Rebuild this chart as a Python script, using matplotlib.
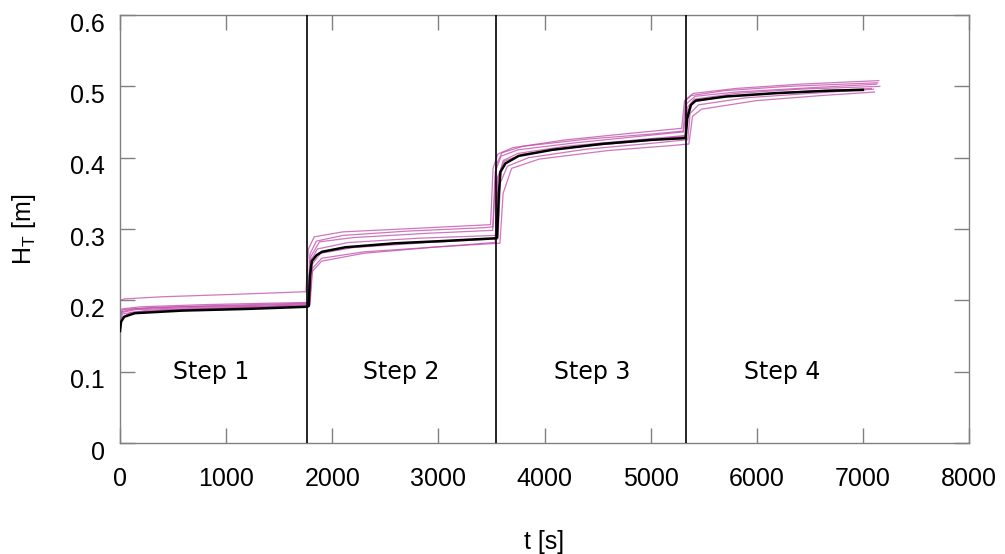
import matplotlib
matplotlib.use("Agg")
import matplotlib.pyplot as plt
import matplotlib.transforms as mtransforms

# ---------------- data ----------------
step_bounds = [1764, 3547, 5330]
step_labels = ["Step 1", "Step 2", "Step 3", "Step 4"]
step_label_t = [858, 2651, 4453, 6236]
step_label_h = 0.10

x_ticks = [0, 1000, 2000, 3000, 4000, 5000, 6000, 7000, 8000]
y_ticks = [0, 0.1, 0.2, 0.3, 0.4, 0.5, 0.6]
y_tick_labels = ["0", "0.1", "0.2", "0.3", "0.4", "0.5", "0.6"]

# mean curve
mean_t = [0, 10, 40, 140, 585, 1208, 1764, 1778, 1790, 1808, 1850, 1903, 2123, 2594, 3066,
          3538, 3553, 3570, 3585, 3632, 3757, 4072, 4544, 5016, 5311, 5330, 5345,
          5380, 5425, 5708, 6179, 6651, 7000]
mean_h = [0.157, 0.170, 0.177, 0.182, 0.1856, 0.188, 0.191, 0.192, 0.235, 0.255, 0.263,
          0.268, 0.2744, 0.280, 0.2833, 0.287, 0.288, 0.350, 0.380, 0.392, 0.4025, 0.411,
          0.4193, 0.425, 0.4273, 0.428, 0.455, 0.474, 0.480, 0.4857, 0.4904, 0.4937, 0.495]

# individual runs
run_a_t = [0, 40, 400, 1000, 1740, 1752, 1775, 1830, 2100, 2800, 3480, 3492, 3515, 3560,
           3700, 4200, 4800, 5280, 5292, 5320, 5400, 5800, 6400, 7150]
run_a_h = [0.200, 0.202, 0.205, 0.208, 0.212, 0.212, 0.272, 0.289, 0.296, 0.301, 0.306,
           0.306, 0.385, 0.405, 0.414, 0.425, 0.434, 0.441, 0.441, 0.480, 0.490, 0.497,
           0.503, 0.508]

run_b_t = [0, 20, 200, 800, 1400, 1765, 1778, 1800, 1880, 2200, 2900, 3500, 3512, 3535,
           3590, 3750, 4300, 4900, 5300, 5312, 5340, 5420, 5800, 6500, 7130]
run_b_h = [0.185, 0.188, 0.191, 0.194, 0.196, 0.197, 0.197, 0.262, 0.282, 0.288, 0.294,
           0.298, 0.298, 0.380, 0.402, 0.411, 0.421, 0.430, 0.436, 0.436, 0.476, 0.486,
           0.492, 0.498, 0.503]

run_c_t = [0, 25, 250, 900, 1770, 1790, 1815, 1900, 2300, 3000, 3565, 3580, 3610, 3690,
           3950, 4600, 5200, 5345, 5360, 5395, 5480, 6000, 6600, 7110]
run_c_h = [0.172, 0.181, 0.186, 0.189, 0.193, 0.193, 0.245, 0.259, 0.268, 0.275, 0.280,
           0.280, 0.350, 0.385, 0.398, 0.410, 0.417, 0.419, 0.419, 0.458, 0.468, 0.480,
           0.487, 0.492]

run_d_t = [0, 15, 120, 600, 1300, 1760, 1772, 1795, 1860, 2150, 2800, 3530, 3542, 3560,
           3610, 3750, 4200, 4800, 5320, 5332, 5350, 5400, 5700, 6300, 7080]
run_d_h = [0.178, 0.184, 0.188, 0.191, 0.193, 0.195, 0.195, 0.255, 0.272, 0.281, 0.287,
           0.291, 0.291, 0.368, 0.396, 0.406, 0.416, 0.424, 0.431, 0.431, 0.466, 0.478,
           0.486, 0.492, 0.497]

run_e_t = [0, 30, 300, 1000, 1755, 1768, 1790, 1850, 2100, 2700, 3450, 3500, 3515, 3545,
           3600, 3800, 4400, 5000, 5290, 5305, 5330, 5380, 5700, 6300, 7140]
run_e_h = [0.182, 0.187, 0.190, 0.193, 0.196, 0.196, 0.265, 0.283, 0.291, 0.297, 0.302,
           0.303, 0.303, 0.390, 0.407, 0.416, 0.426, 0.433, 0.437, 0.437, 0.480, 0.487,
           0.494, 0.500, 0.505]

run_f_t = [0, 20, 150, 700, 1400, 1775, 1788, 1808, 1890, 2200, 2900, 3545, 3560, 3585,
           3650, 3850, 4400, 5000, 5335, 5350, 5372, 5450, 5900, 6500, 7100]
run_f_h = [0.176, 0.183, 0.187, 0.190, 0.192, 0.194, 0.194, 0.250, 0.266, 0.274, 0.281,
           0.286, 0.286, 0.365, 0.388, 0.400, 0.412, 0.420, 0.425, 0.425, 0.462, 0.474,
           0.484, 0.490, 0.496]

run_g_t = [0, 10, 100, 500, 1200, 1770, 1782, 1810, 1900, 2300, 3000, 3520, 3535, 3555,
           3620, 3800, 4300, 4900, 5310, 5325, 5345, 5410, 5800, 6400, 7160]
run_g_h = [0.160, 0.175, 0.183, 0.187, 0.190, 0.192, 0.192, 0.240, 0.255, 0.266, 0.275,
           0.281, 0.281, 0.372, 0.395, 0.405, 0.415, 0.423, 0.430, 0.430, 0.470, 0.482,
           0.490, 0.496, 0.500]

runs = [(run_a_t, run_a_h), (run_b_t, run_b_h), (run_c_t, run_c_h), (run_d_t, run_d_h),
        (run_e_t, run_e_h), (run_f_t, run_f_h), (run_g_t, run_g_h)]

# ---------------- plot ----------------
fig = plt.figure(figsize=(10.05, 5.54), dpi=100)
ax = fig.add_axes([120 / 1005, 111 / 554, 849 / 1005, 428 / 554])

for t, h in runs:
    ax.plot(t, h, color="#c048a8", lw=0.9, alpha=0.75, zorder=2)

ax.plot(mean_t, mean_h, color="black", lw=1.8, zorder=3)

for b in step_bounds:
    ax.axvline(b, color="black", lw=1.2, zorder=4)

for lab, tx in zip(step_labels, step_label_t):
    ax.text(tx, step_label_h, lab, ha="center", va="center", fontsize=17,
            family="DejaVu Sans", color="black")

ax.set_xlim(0, 8000)
ax.set_ylim(0, 0.6)
ax.set_xticks(x_ticks)
ax.set_yticks(y_ticks)
ax.set_yticklabels(y_tick_labels)

frame_col = "#808080"
for s in ax.spines.values():
    s.set_color(frame_col)
    s.set_linewidth(1.0)

ax.tick_params(axis="both", direction="in", length=11, width=1.0, color=frame_col,
               top=True, right=True, labelsize=18, labelcolor="black")
ax.tick_params(axis="x", pad=17)
ax.tick_params(axis="y", pad=11)
for lbl in ax.get_xticklabels() + ax.get_yticklabels():
    lbl.set_family("Liberation Sans")

# y tick labels sit slightly below their ticks in the reference
shift = mtransforms.ScaledTranslation(0, -7 / 100, fig.dpi_scale_trans)
for lbl in ax.get_yticklabels():
    lbl.set_transform(lbl.get_transform() + shift)

ax.set_xlabel("t [s]", fontsize=18, family="Liberation Sans")
ax.set_ylabel(r"H$_\mathregular{T}$ [m]", fontsize=18, family="Liberation Sans")
ax.xaxis.set_label_coords(0.5, -0.203)
ax.yaxis.set_label_coords(-0.097, 0.5)

fig.savefig("out.png", dpi=100, facecolor="white")
